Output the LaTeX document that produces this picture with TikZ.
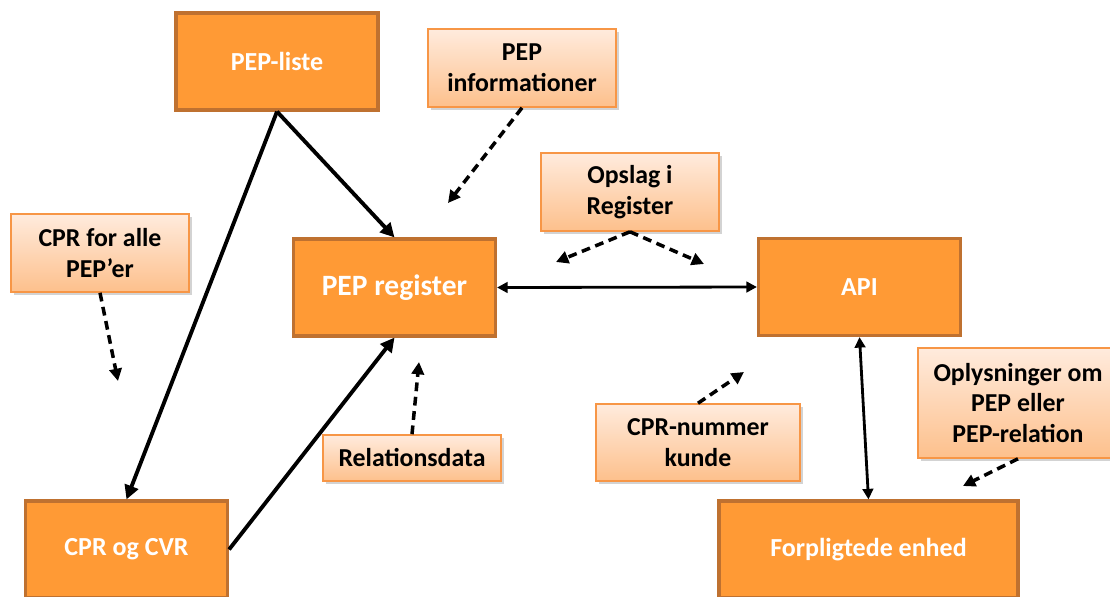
\documentclass[tikz,border=0pt]{standalone}
\usepackage{fontspec}
\setmainfont{Carlito}
\usetikzlibrary{arrows.meta,shadows}
\definecolor{boxorange}{HTML}{FF9A35}
\definecolor{boxedge}{HTML}{BF7130}
\definecolor{notetop}{HTML}{FFEBDD}
\definecolor{notebottom}{HTML}{FDC08C}
\definecolor{noteedge}{HTML}{F79646}

\begin{document}
\begin{tikzpicture}[x=0.02cm, y=-0.02cm,
  mainbox/.style={draw=boxedge, fill=boxorange, line width=1.8pt, text=white, font=\bfseries\fontsize{14.8}{17}\selectfont, minimum width=4.04cm, minimum height=1.94cm, inner sep=0pt},
  notebox/.style={draw=noteedge, line width=0.9pt, top color=notetop, bottom color=notebottom, font=\bfseries\fontsize{14.7}{17.6}\selectfont, align=center, inner sep=0pt, drop shadow={shadow xshift=1.5pt, shadow yshift=-1.5pt, opacity=0.35}},
  flow/.style={-{Triangle[length=8pt, width=8pt]}, line width=2.2pt},
  both/.style={{Triangle[length=6pt, width=6pt]}-{Triangle[length=6pt, width=6pt]}, line width=1.6pt},
  hint/.style={-{Triangle[length=7pt, width=7pt]}, line width=2pt, dash pattern=on 5pt off 3.2pt}]
  \useasboundingbox (0,0) rectangle (1110,596);

  % main boxes
  \node[mainbox] (liste) at (277, 61.5) {PEP-liste};
  \node[mainbox, font=\bfseries\fontsize{16.8}{20}\selectfont] (register) at (394.5, 287.5) {PEP register};
  \node[mainbox] (api) at (859.5, 287) {API};
  \node[mainbox] (cprcvr) at (126.5, 549.5) {CPR og CVR};
  \node[mainbox, minimum width=5.98cm] (enhed) at (868.5, 549.5) {Forpligtede enhed};

  % notes
  \node[notebox, minimum width=3.76cm, minimum height=1.56cm] (info) at (522, 68) {PEP\\informationer};
  \node[notebox, minimum width=3.56cm, minimum height=1.56cm] (opslag) at (630, 192) {Opslag i\\Register};
  \node[notebox, minimum width=3.56cm, minimum height=1.56cm] (cpralle) at (100, 253) {CPR for alle\\PEP’er};
  \node[notebox, minimum width=3.56cm, minimum height=0.92cm] (relation) at (412, 458) {Relationsdata};
  \node[notebox, minimum width=4.08cm, minimum height=1.54cm] (kunde) at (698, 442.5) {CPR-nummer\\kunde};
  \node[notebox, minimum width=4.00cm, minimum height=2.20cm] (oplys) at (1018, 403) {Oplysninger om\\PEP eller\\PEP-relation};

  % free ends of the dashed arrows
  \coordinate (infoend) at (448, 203);
  \coordinate (opslagl) at (556, 262);
  \coordinate (opslagr) at (704, 264);
  \coordinate (alleend) at (118, 381);
  \coordinate (relend) at (419, 362);
  \coordinate (kundeend) at (744, 372);
  \coordinate (oplysend) at (963, 486);

  \draw[flow] (liste.south) -- (register.north);
  \draw[flow] (liste.south) -- (cprcvr.north);
  \draw[flow] (cprcvr.east) -- (register.south);
  \draw[both] (register.east) -- (api.west);
  \draw[both] (api.south) -- (enhed.north);

  \draw[hint] (info.south) -- (infoend);
  \draw[hint] (opslag.south) -- (opslagl);
  \draw[hint] (opslag.south) -- (opslagr);
  \draw[hint] (cpralle.south) -- (alleend);
  \draw[hint] (relation.north) -- (relend);
  \draw[hint] (kunde.north) -- (kundeend);
  \draw[hint] (oplys.south) -- (oplysend);
\end{tikzpicture}
\end{document}
